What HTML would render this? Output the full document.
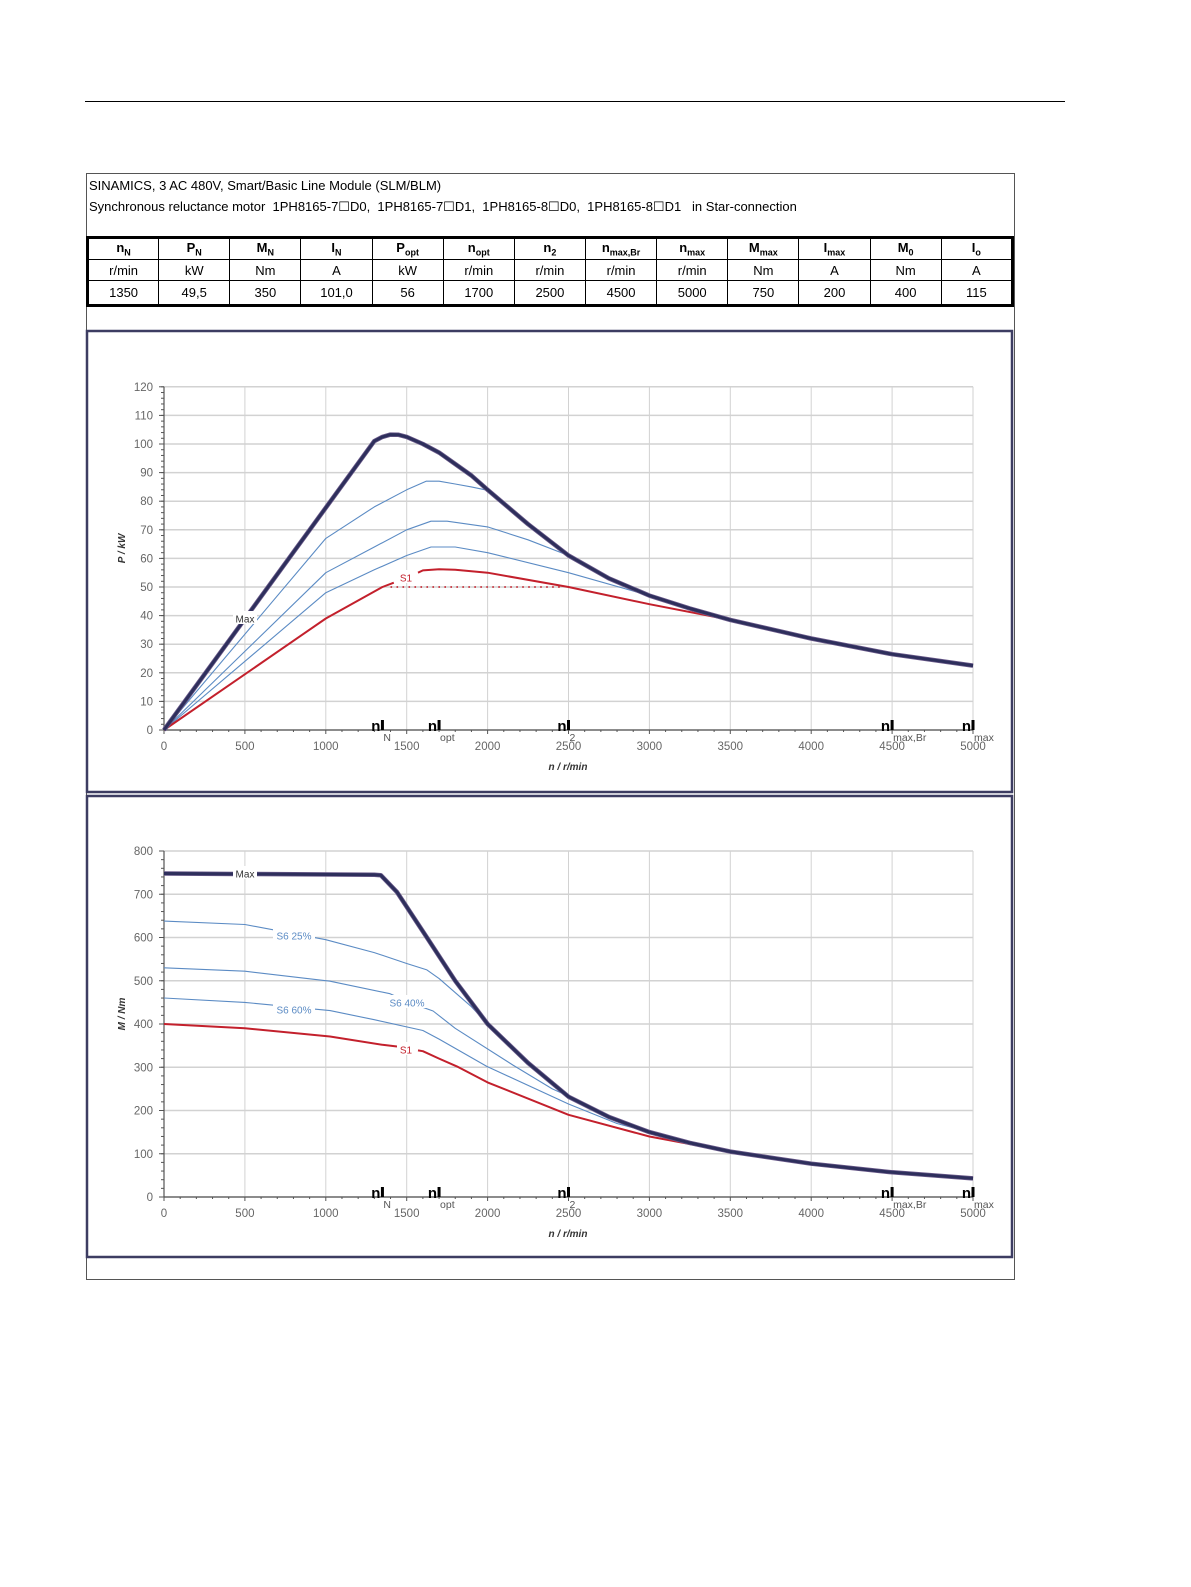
<!DOCTYPE html>
<html><head><meta charset="utf-8">
<style>
html,body{margin:0;padding:0;background:#fff;}
body{width:1191px;height:1587px;position:relative;overflow:hidden;font-family:"Liberation Sans",Arial,sans-serif;}
#rule{position:absolute;left:85px;top:101px;width:980px;height:1px;background:#000;}
#outer{position:absolute;left:86px;top:173px;width:927px;height:1105px;border:1px solid #555;}
.t1{position:absolute;left:89px;font-size:13px;color:#000;}
table{position:absolute;left:86px;top:236px;border-collapse:collapse;width:928px;table-layout:fixed;}
td{border:1px solid #000;text-align:center;font-size:13px;height:20px;padding:0;}
tr.h td{font-weight:bold;border-top:3px solid #000;}
tr.v td{border-bottom:3px solid #000;height:23px;}
td:first-child{border-left:3px solid #000;} td:last-child{border-right:3px solid #000;}
td sub{font-size:9px;}
svg{position:absolute;left:0;top:0;}
</style></head><body>
<div id="rule"></div>
<div id="outer"></div>
<div class="t1" style="top:178px">SINAMICS, 3 AC 480V, Smart/Basic Line Module (SLM/BLM)</div>
<div class="t1" style="top:199px">Synchronous reluctance motor&nbsp; 1PH8165-7☐D0,&nbsp; 1PH8165-7☐D1,&nbsp; 1PH8165-8☐D0,&nbsp; 1PH8165-8☐D1 &nbsp; in Star-connection</div>
<table>
<tr class="h"><td>n<sub>N</sub></td><td>P<sub>N</sub></td><td>M<sub>N</sub></td><td>I<sub>N</sub></td><td>P<sub>opt</sub></td><td>n<sub>opt</sub></td><td>n<sub>2</sub></td><td>n<sub>max,Br</sub></td><td>n<sub>max</sub></td><td>M<sub>max</sub></td><td>I<sub>max</sub></td><td>M<sub>0</sub></td><td>I<sub>o</sub></td></tr>
<tr><td>r/min</td><td>kW</td><td>Nm</td><td>A</td><td>kW</td><td>r/min</td><td>r/min</td><td>r/min</td><td>r/min</td><td>Nm</td><td>A</td><td>Nm</td><td>A</td></tr>
<tr class="v"><td>1350</td><td>49,5</td><td>350</td><td>101,0</td><td>56</td><td>1700</td><td>2500</td><td>4500</td><td>5000</td><td>750</td><td>200</td><td>400</td><td>115</td></tr>
</table>
<svg id="s" width="1191" height="1587" xmlns="http://www.w3.org/2000/svg"></svg>
<script>
var s=document.getElementById('s'),h='';
function X(n){return 164+n*0.1618;}
function chart(top,y0,ymax,step,ppu,ylab,curves,labels){
 // frame
 h+='<rect x="87" y="'+top+'" width="925" height="'+461+'" fill="#fff" stroke="#3d3d62" stroke-width="2.5"/>';
 var Y=function(v){return y0-v*ppu;};
 for(var n=0;n<=5000;n+=500){h+='<line x1="'+X(n)+'" y1="'+Y(ymax)+'" x2="'+X(n)+'" y2="'+y0+'" stroke="#d2d2d2" stroke-width="1"/>';
  h+='<text x="'+X(n)+'" y="'+(y0+20)+'" font-size="11.5" fill="#666" text-anchor="middle">'+n+'</text>';}
 for(var v=0;v<=ymax;v+=step){h+='<line x1="164" y1="'+Y(v)+'" x2="973" y2="'+Y(v)+'" stroke="#d2d2d2" stroke-width="1.5"/>';
  h+='<text x="153" y="'+(Y(v)+4)+'" font-size="11.5" fill="#666" text-anchor="end">'+v+'</text>';
  h+='<line x1="159" y1="'+Y(v)+'" x2="164" y2="'+Y(v)+'" stroke="#555"/>';}
 for(var v=0;v<=ymax;v+=step/5)h+='<line x1="161" y1="'+Y(v)+'" x2="164" y2="'+Y(v)+'" stroke="#555"/>';
 for(var n=0;n<=5000;n+=100)h+='<line x1="'+X(n)+'" y1="'+y0+'" x2="'+X(n)+'" y2="'+(y0+(n%500?2:4))+'" stroke="#555"/>';
 h+='<line x1="164" y1="'+Y(ymax)+'" x2="164" y2="'+y0+'" stroke="#555" stroke-width="1.2"/>';
 h+='<line x1="164" y1="'+y0+'" x2="973" y2="'+y0+'" stroke="#555" stroke-width="1.2"/>';
 h+='<text transform="translate(125,'+(Y(ymax/2)-10)+') rotate(-90)" font-size="10" font-weight="bold" font-style="italic" fill="#333" text-anchor="middle">'+ylab+'</text>';
 h+='<text x="568" y="'+(y0+40)+'" font-size="10" font-weight="bold" font-style="italic" fill="#333" text-anchor="middle">n / r/min</text>';
 curves.forEach(function(c){c.segs.forEach(function(sg){
  h+='<polyline fill="none" stroke="'+c.col+'" stroke-width="'+c.w+'" stroke-linejoin="round" points="'+sg.map(function(p){return X(p[0]).toFixed(1)+','+Y(p[1]).toFixed(1);}).join(' ')+'"/>';});});
 labels.forEach(function(l){var w=l[0].length*6+6;
  h+='<rect x="'+(l[1]-w/2)+'" y="'+(l[2]-8)+'" width="'+w+'" height="13" fill="#fff"/>';
  h+='<text x="'+l[1]+'" y="'+(l[2]+3.5)+'" font-size="10" fill="'+l[3]+'" text-anchor="middle">'+l[0]+'</text>';});
 // markers
 [[1350,'N'],[1700,'opt'],[2500,'2'],[4500,'max,Br'],[5000,'max']].forEach(function(m){var x=X(m[0]);
  h+='<rect x="'+(x-1.5)+'" y="'+(y0-10)+'" width="3" height="10" fill="#000"/>';
  h+='<text x="'+(x-2)+'" y="'+(y0+1)+'" font-size="15" font-weight="bold" text-anchor="end">n</text>';
  h+='<text x="'+(x+1)+'" y="'+(y0+11)+'" font-size="10.5" fill="#555">'+m[1]+'</text>';});
}
var B='#5b8bc4',R='#c3202c',M='#2e2f5c';
var pmax=[[0,0],[1300,101],[1350,102.5],[1400,103.3],[1450,103.2],[1500,102.5],[1600,100],[1700,97],[1800,93],[1900,89],[2000,84],[2250,72],[2500,61],[2750,53],[3000,47],[3250,42.5],[3500,38.5],[4000,32],[4500,26.5],[5000,22.5]];
function after(arr,n){return arr.filter(function(p){return p[0]>n;});}
function cat(a,n){return a.concat(after(pmaxUse,n));}
var pmaxUse=pmax;
var pc=[
 {col:B,w:1.1,segs:[cat([[0,0],[1000,67],[1300,78],[1500,84],[1620,87],[1700,87],[1800,86],[1900,85],[2000,83.8]],2000)]},
 {col:B,w:1.1,segs:[cat([[0,0],[1000,55],[1300,64],[1500,70],[1650,73],[1750,73],[2000,71],[2250,66.5],[2500,61]],2500)]},
 {col:B,w:1.1,segs:[cat([[0,0],[1000,48],[1300,56],[1500,61],[1650,64],[1800,64],[2000,62],[2500,55],[3000,47]],3000)]},
 {col:R,w:2,segs:[[[0,0],[1000,39],[1350,50],[1420,51.5]],cat([[1570,55],[1600,55.8],[1700,56.2],[1800,56],[2000,55],[2500,50],[3000,44],[3500,38.5]],3500)]},
 {col:'#6a5a8a',w:4.5,segs:[pmax]},{col:M,w:3,segs:[pmax]}];
chart(331,730,120,10,2.86,'P / kW',pc,[['Max',245,619,'#333'],['S1',406,578,R]]);
// dotted S1 line
(function(){var y=730-50*2.86;for(var n=1400;n<=2440;n+=37)h+='<rect x="'+X(n)+'" y="'+(y-0.8)+'" width="1.6" height="1.6" fill="'+R+'"/>';})();
var mmax=[[0,748],[1300,745],[1340,744],[1440,705],[1625,600],[1800,500],[2000,400],[2250,310],[2500,232],[2750,185],[3000,150],[3250,125],[3500,105],[4000,77],[4500,57],[5000,43]];
pmaxUse=mmax;
var mc=[
 {col:B,w:1.1,segs:[cat([[0,638],[500,630],[1000,595],[1300,565],[1500,540],[1625,525],[1700,505],[1900,440]],1900)]},
 {col:B,w:1.1,segs:[cat([[0,530],[500,522],[1026,499],[1397,470],[1550,445],[1663,430],[1800,390],[2157,305],[2400,250],[2550,225]],2550)]},
 {col:B,w:1.1,segs:[cat([[0,460],[500,450],[1026,431],[1300,410],[1600,385],[1700,365],[1995,302],[2500,215],[2800,170],[3000,150]],3000)]},
 {col:R,w:2,segs:[[[0,400],[500,390],[1026,371],[1350,352],[1440,348]],cat([[1570,339],[1600,337],[1700,320],[1810,302],[2000,265],[2500,190],[3000,140],[3500,105]],3500)]},
 {col:'#6a5a8a',w:4.5,segs:[mmax]},{col:M,w:3,segs:[mmax]}];
chart(796,1197,800,100,0.4325,'M / Nm',mc,[['Max',245,874,'#333'],['S6 25%',294,936,B],['S6 40%',407,1003,B],['S6 60%',294,1010,B],['S1',406,1050,R]]);
s.innerHTML=h;
</script>
</body></html>
